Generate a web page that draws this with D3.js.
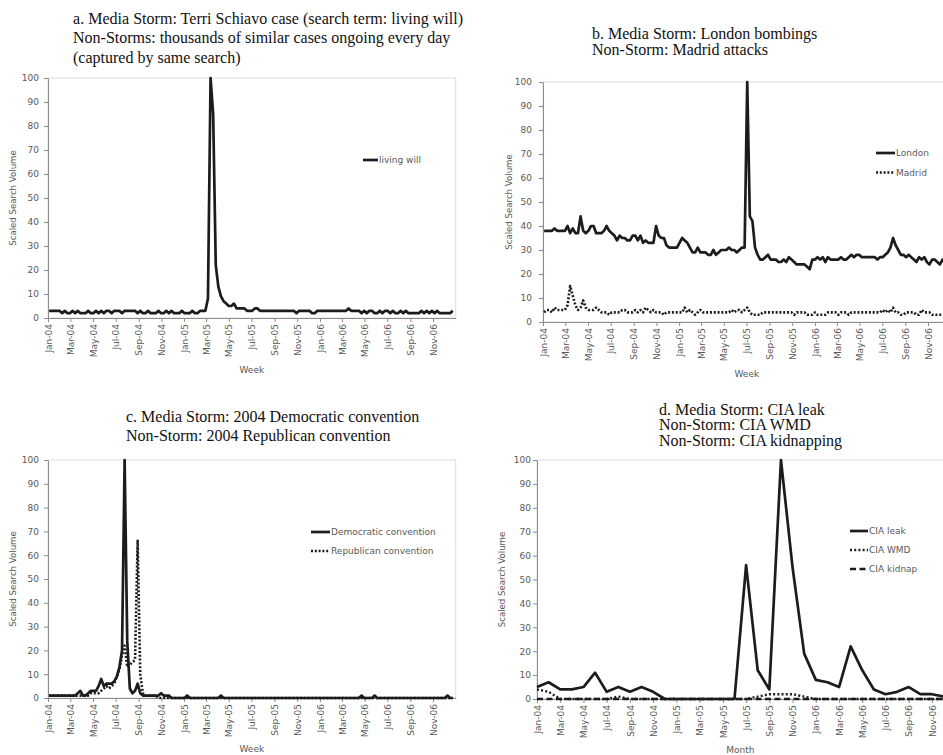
<!DOCTYPE html>
<html><head><meta charset="utf-8">
<script src="https://cdn.jsdelivr.net/npm/d3@7/dist/d3.min.js"></script>
<style>
html,body{margin:0;padding:0;background:#fff;}
svg{display:block;}
</style></head>
<body>
<svg id="chart" width="943" height="755"></svg>
<script>
// ---------- DATA ----------
const weekStart = "2004-01-04";
const weekCount = 156;
const weekTickLabels = ["Jan-04","Mar-04","May-04","Jul-04","Sep-04","Nov-04","Jan-05","Mar-05","May-05","Jul-05","Sep-05","Nov-05","Jan-06","Mar-06","May-06","Jul-06","Sep-06","Nov-06"];
const months = ["Jan-04","Feb-04","Mar-04","Apr-04","May-04","Jun-04","Jul-04","Aug-04","Sep-04","Oct-04","Nov-04","Dec-04",
  "Jan-05","Feb-05","Mar-05","Apr-05","May-05","Jun-05","Jul-05","Aug-05","Sep-05","Oct-05","Nov-05","Dec-05",
  "Jan-06","Feb-06","Mar-06","Apr-06","May-06","Jun-06","Jul-06","Aug-06","Sep-06","Oct-06","Nov-06","Dec-06"];
const yTicks = [0,10,20,30,40,50,60,70,80,90,100];

// a. living will (weekly)
const livingWill = [
  3,3,3,3,3,2,3,2,2,3,
  2,3,2,2,2,3,2,2,3,2,
  3,2,3,3,2,3,3,3,2,3,
  3,3,3,3,2,3,2,2,3,2,
  2,2,3,2,2,3,2,3,2,2,
  2,3,2,2,2,3,2,2,3,3,
  3,8,100,85,22,13,9,7,6,5,
  5,6,4,4,4,4,3,3,3,4,
  4,3,3,3,3,3,3,3,3,3,
  3,3,3,3,3,2,3,3,3,3,
  3,2,2,3,3,3,3,3,3,3,
  3,3,3,3,3,4,3,3,3,3,
  2,3,2,3,3,2,2,3,2,3,
  3,2,3,2,2,3,2,3,2,2,
  2,2,2,3,2,3,2,3,2,3,
  2,2,2,2,2,3];

// b. London / Madrid (weekly)
const london = [
  38,38,38,38,39,38,38,38,38,40,
  37,39,37,37,44,38,37,38,40,40,
  37,37,37,38,40,38,37,36,34,36,
  35,35,34,34,36,36,34,36,33,34,
  33,33,33,40,36,35,35,32,31,31,
  31,31,33,35,34,33,31,29,29,31,
  29,29,29,28,28,30,28,29,30,30,
  30,31,30,30,29,30,31,31,100,44,
  42,31,28,26,26,27,28,26,26,26,
  25,25,26,25,27,26,25,24,24,24,
  24,23,22,26,26,27,26,27,25,27,
  26,26,26,26,27,26,26,27,28,27,
  28,28,27,27,27,27,27,27,26,27,
  27,28,29,31,35,32,30,28,28,27,
  28,27,26,25,27,26,27,25,24,26,
  26,25,24,26,25,24];
const madrid = [
  4,5,5,4,6,5,5,5,5,7,
  15,11,7,5,6,9,6,5,5,5,
  6,5,4,4,4,3,4,4,4,4,
  5,5,4,4,4,5,4,5,4,6,
  5,4,5,4,4,4,3,4,4,4,
  4,4,4,4,6,4,5,4,3,4,
  5,4,4,4,4,4,4,4,4,4,
  4,4,5,4,5,5,4,5,6,4,
  3,3,3,3,4,4,4,4,4,4,
  4,4,4,4,4,4,3,4,4,4,
  4,3,3,3,4,3,3,3,3,4,
  4,4,4,3,4,4,4,3,4,4,
  4,4,4,4,4,4,4,4,4,4,
  5,4,5,4,6,4,4,3,3,4,
  4,4,4,3,3,5,4,4,4,3,
  3,3,3,3,3,3];

// c. conventions (weekly)
const democratic = [
  1,1,1,1,1,1,1,1,1,1,
  1,2,3,1,1,2,3,3,3,5,
  8,5,6,6,6,7,9,13,20,100,
  24,4,2,3,6,2,1,1,1,1,
  1,1,1,2,1,1,1,0,0,0,
  0,0,0,1,0,0,0,0,0,0,
  0,0,0,0,0,0,1,0,0,0,
  0,0,0,0,0,0,0,0,0,0,
  0,0,0,0,0,0,0,0,0,0,
  0,0,0,0,0,0,0,0,0,0,
  0,0,0,0,0,0,0,0,0,0,
  0,0,0,0,0,0,0,0,0,0,
  1,0,0,0,0,1,0,0,0,0,
  0,0,0,0,0,0,0,0,0,0,
  0,0,0,0,0,0,0,0,0,0,
  0,0,0,1,0,0];
const republican = [
  1,1,1,1,1,1,1,1,1,1,
  1,1,1,1,1,1,2,2,2,2,
  3,4,5,4,5,6,9,12,18,22,
  13,14,15,16,66,10,2,1,1,1,
  1,1,0,0,0,0,0,0,0,0,
  0,0,0,0,0,0,0,0,0,0,
  0,0,0,0,0,0,0,0,0,0,
  0,0,0,0,0,0,0,0,0,0,
  0,0,0,0,0,0,0,0,0,0,
  0,0,0,0,0,0,0,0,0,0,
  0,0,0,0,0,0,0,0,0,0,
  0,0,0,0,0,0,0,0,0,0,
  0,0,0,0,0,0,0,0,0,0,
  0,0,0,0,0,0,0,0,0,0,
  0,0,0,0,0,0,0,0,0,0,
  0,0,0,0,0,0];

// d. CIA (monthly)
const ciaLeak =   [5,7,4,4,5,11,3,5,3,5,3,0, 0,0,0,0,0,0,56,12,4,100,55,19, 8,7,5,22,12,4,2,3,5,2,2,1];
const ciaWMD =    [4,3,0,0,0,0,0,1,0,0,0,0, 0,0,0,0,0,0,0,1,2,2,2,1, 0,0,0,0,0,0,0,0,0,0,0,0];
const ciaKidnap = [0,0,0,0,0,0,0,0,0,0,0,0, 0,0,0,0,0,0,0,0,0,0,0,0, 0,0,0,0,0,0,0,0,0,0,0,0];

// ---------- DRAW ----------
const svg = d3.select("#chart");
const parseWeek = d3.timeParse("%Y-%m-%d");
const weeks = d3.timeWeek.range(parseWeek(weekStart), d3.timeWeek.offset(parseWeek(weekStart), weekCount));
const parseTick = d3.timeParse("%b-%y");
const weekTickDates = weekTickLabels.map(parseTick);

const AX = "#8c8c8c", TX = "#595959", LINE = "#1c1c1c";
const sans = "DejaVu Sans, sans-serif";
const serif = "Liberation Serif, Times New Roman, serif";

const styles = {
  solid: {dash: null, w: 2.7},
  dotted: {dash: "2,1.8", w: 2.6},
  wmd: {dash: "2,2.2", w: 2.4},
  dashed: {dash: "6,3.5", w: 2.4}
};

function panel(cfg) {
  const g = svg.append("g");
  const y = d3.scaleLinear().domain([0, 100]).range([cfg.bottom, cfg.top]);
  let x, xTicks, xFmt, xVals;
  if (cfg.monthly) {
    x = d3.scaleLinear().domain([0, months.length - 1]).range([cfg.left, cfg.right]);
    xTicks = d3.range(0, months.length, 2);
    xFmt = i => months[i];
    xVals = months.map((m, i) => i);
  } else {
    x = d3.scaleTime().domain([new Date(2004,0,1), new Date(2007,0,1)]).range([cfg.left, cfg.right]);
    xTicks = weekTickDates;
    xFmt = d => weekTickLabels[weekTickDates.indexOf(d)];
    xVals = weeks;
  }
  // plot border
  g.append("rect").attr("x", cfg.left).attr("y", cfg.top)
    .attr("width", cfg.right - cfg.left).attr("height", cfg.bottom - cfg.top)
    .attr("fill", "none").attr("stroke", "#dcdcdc").attr("stroke-width", 1);

  // y axis
  const ya = g.append("g").attr("transform", `translate(${cfg.left},0)`)
    .call(d3.axisLeft(y).tickValues(yTicks).tickSize(4).tickSizeOuter(0).tickPadding(cfg.yPad));
  ya.select(".domain").attr("stroke", AX);
  ya.selectAll(".tick line").attr("stroke", AX);
  ya.selectAll("text").attr("fill", TX).style("font-family", sans).style("font-size", "9px");

  // x axis
  const xa = g.append("g").attr("transform", `translate(0,${cfg.bottom})`)
    .call(d3.axisBottom(x).tickValues(xTicks).tickFormat(xFmt).tickSize(4).tickSizeOuter(0));
  xa.select(".domain").attr("stroke", AX);
  xa.selectAll(".tick line").attr("stroke", AX);
  xa.selectAll("text").attr("fill", TX).style("font-family", sans).style("font-size", "9px")
    .attr("transform", "rotate(-90)").attr("text-anchor", "end")
    .attr("x", -6).attr("y", 0).attr("dy", "0.35em");

  // axis titles
  g.append("text").attr("transform", `translate(${cfg.yTitleX},${(cfg.top + cfg.bottom) / 2}) rotate(-90)`)
    .attr("text-anchor", "middle").attr("dy", "0.35em")
    .attr("fill", TX).style("font-family", sans).style("font-size", "8.6px").text("Scaled Search Volume");
  g.append("text").attr("x", (cfg.left + cfg.right) / 2).attr("y", cfg.xTitleY)
    .attr("text-anchor", "middle").attr("fill", TX).style("font-family", sans).style("font-size", "9px")
    .text(cfg.xTitle);

  // series
  cfg.series.forEach(s => {
    const st = styles[s.style];
    const line = d3.line().x((d, i) => x(xVals[i])).y(d => y(d));
    g.append("path").datum(s.values).attr("d", line)
      .attr("fill", "none").attr("stroke", LINE).attr("stroke-width", st.w)
      .attr("stroke-linejoin", "round")
      .attr("stroke-dasharray", st.dash);
  });

  // legend
  cfg.series.forEach((s, k) => {
    const st = styles[s.style];
    const ly = cfg.legend.y + k * cfg.legend.dy;
    g.append("line").attr("x1", cfg.legend.x).attr("x2", cfg.legend.x + cfg.legend.len)
      .attr("y1", ly).attr("y2", ly).attr("stroke", LINE).attr("stroke-width", st.w)
      .attr("stroke-dasharray", st.dash);
    g.append("text").attr("x", cfg.legend.x + cfg.legend.len + 1).attr("y", ly).attr("dy", "0.35em")
      .attr("fill", TX).style("font-family", sans).style("font-size", "9px").text(s.name);
  });

  // title
  cfg.title.lines.forEach((t, k) => {
    const tx = g.append("text").attr("x", cfg.title.x).attr("y", cfg.title.y + k * cfg.title.dy)
      .attr("fill", "#111").style("font-family", serif).style("font-size", "16px").text(t);
    if (cfg.title.widths && cfg.title.widths[k]) {
      tx.attr("textLength", cfg.title.widths[k]).attr("lengthAdjust", "spacing");
    }
  });
}

panel({
  left: 48, right: 455.7, top: 78, bottom: 318, yPad: 5, yTitleX: 13, xTitleY: 373, xTitle: "Week",
  series: [{name: "living will", values: livingWill, style: "solid"}],
  legend: {x: 363, y: 160, dy: 19, len: 15},
  title: {x: 73, y: 23.5, dy: 19.5, widths: [390], lines: [
    "a. Media Storm: Terri Schiavo case (search term: living will)",
    "Non-Storms: thousands of similar cases ongoing every day",
    "(captured by same search)"]}
});

panel({
  left: 543, right: 950.7, top: 82, bottom: 322, yPad: 7, yTitleX: 509, xTitleY: 377, xTitle: "Week",
  series: [{name: "London", values: london, style: "solid"},
           {name: "Madrid", values: madrid, style: "dotted"}],
  legend: {x: 876, y: 153, dy: 19.5, len: 19},
  title: {x: 592, y: 38.5, dy: 16.7, lines: [
    "b. Media Storm: London bombings",
    "Non-Storm: Madrid attacks"]}
});

panel({
  left: 48, right: 455.7, top: 460, bottom: 698, yPad: 5, yTitleX: 13, xTitleY: 752, xTitle: "Week",
  series: [{name: "Democratic convention", values: democratic, style: "solid"},
           {name: "Republican convention", values: republican, style: "dotted"}],
  legend: {x: 311, y: 532, dy: 19, len: 19},
  title: {x: 126, y: 422, dy: 19.3, lines: [
    "c. Media Storm: 2004 Democratic convention",
    "Non-Storm: 2004 Republican convention"]}
});

panel({
  monthly: true,
  left: 537, right: 943.6, top: 460, bottom: 699, yPad: 2, yTitleX: 502, xTitleY: 753, xTitle: "Month",
  series: [{name: "CIA leak", values: ciaLeak, style: "solid"},
           {name: "CIA WMD", values: ciaWMD, style: "wmd"},
           {name: "CIA kidnap", values: ciaKidnap, style: "dashed"}],
  legend: {x: 850, y: 531, dy: 19, len: 18},
  title: {x: 659, y: 414.5, dy: 15.9, lines: [
    "d. Media Storm: CIA leak",
    "Non-Storm: CIA WMD",
    "Non-Storm: CIA kidnapping"]}
});
</script>
</body></html>
